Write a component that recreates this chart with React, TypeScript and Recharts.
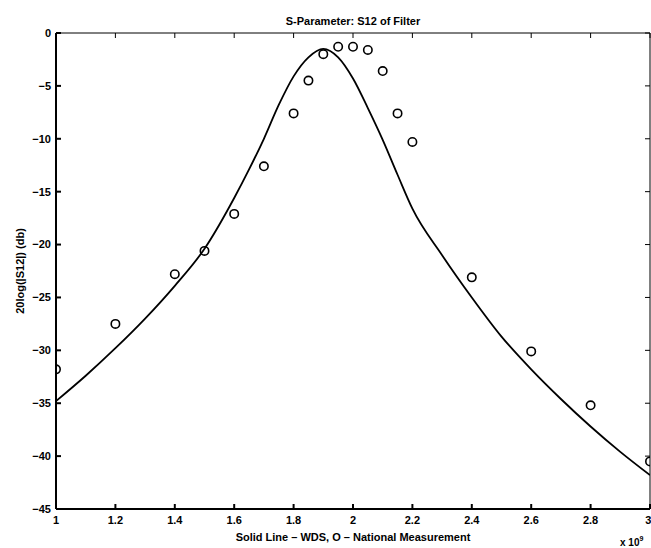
import { ComposedChart, Line, Scatter, XAxis, YAxis, Label } from "recharts";

// WDS simulation (solid line), frequency in units of 1e9
const wdsFreq = [1.0, 1.1, 1.2, 1.3, 1.4, 1.5, 1.6, 1.65, 1.7, 1.75, 1.8, 1.85, 1.9, 1.95, 2.0, 2.05, 2.1, 2.15, 2.2, 2.3, 2.4, 2.5, 2.6, 2.7, 2.8, 2.9, 3.0];
const wdsS12 = [-34.8, -32.4, -29.8, -27.0, -23.9, -20.4, -15.6, -12.9, -10.0, -6.8, -4.1, -2.3, -1.5, -2.3, -4.3, -7.1, -10.1, -13.4, -16.6, -21.0, -25.0, -28.7, -31.8, -34.6, -37.2, -39.6, -41.8];

// National measurement (circles)
const measFreq = [1.0, 1.2, 1.4, 1.5, 1.6, 1.7, 1.8, 1.85, 1.9, 1.95, 2.0, 2.05, 2.1, 2.15, 2.2, 2.4, 2.6, 2.8, 3.0];
const measS12 = [-31.8, -27.5, -22.8, -20.6, -17.1, -12.6, -7.6, -4.5, -2.0, -1.3, -1.3, -1.6, -3.6, -7.6, -10.3, -23.1, -30.1, -35.2, -40.5];

const xTicks = [1, 1.2, 1.4, 1.6, 1.8, 2, 2.2, 2.4, 2.6, 2.8, 3];
const yTicks = [0, -5, -10, -15, -20, -25, -30, -35, -40, -45];

const wdsData = wdsFreq.map((f, i) => ({ f, s12: wdsS12[i] }));
const measData = measFreq.map((f, i) => ({ f, s12: measS12[i] }));

const font = { fontFamily: "'Liberation Sans', Arial, sans-serif", fontWeight: 700, fontSize: 11, fill: "#000" };

const fmtY = (v: number) => (v < 0 ? `\u2212${-v}` : `${v}`);

const OpenCircle = (props: any) => (
  <circle cx={props.cx} cy={props.cy} r={4.2} fill="none" stroke="#000" strokeWidth={1.6} />
);

const Hidden = () => <g />;

export default function App() {
  return (
    <div style={{ position: "absolute", left: 0, top: 0, background: "#fff" }}>
      <ComposedChart width={651} height={548} margin={{ top: 0, right: 0, bottom: 0, left: 0 }}>
        <XAxis
          xAxisId="top"
          orientation="top"
          type="number"
          dataKey="f"
          domain={[1, 3]}
          ticks={xTicks}
          allowDataOverflow
          height={33}
          tickSize={-5}
          tick={Hidden}
          stroke="#000"
          strokeWidth={1}
        >
          <Label
            content={({ viewBox }: any) => (
              <text x={viewBox.x + viewBox.width / 2} y={viewBox.y + 25} textAnchor="middle" style={font}>
                S-Parameter: S12 of Filter
              </text>
            )}
          />
        </XAxis>
        <XAxis
          xAxisId="b"
          type="number"
          dataKey="f"
          domain={[1, 3]}
          ticks={xTicks}
          allowDataOverflow
          height={39}
          tickSize={-5}
          tickMargin={12}
          tick={font}
          stroke="#000"
          strokeWidth={2}
        >
          <Label
            content={({ viewBox }: any) => (
              <g>
                <text x={viewBox.x + viewBox.width / 2} y={viewBox.y + 32} textAnchor="middle" style={font}>
                  Solid Line – WDS, O – National Measurement
                </text>
                <text x={620} y={viewBox.y + 37} style={{ ...font, fontSize: 10 }}>
                  x 10<tspan dy={-5} fontSize={7}>9</tspan>
                </text>
              </g>
            )}
          />
        </XAxis>
        <YAxis
          yAxisId="l"
          type="number"
          domain={[-45, 0]}
          ticks={yTicks}
          allowDataOverflow
          width={56}
          tickSize={-5}
          tickMargin={10}
          tick={font}
          tickFormatter={fmtY}
          stroke="#000"
          strokeWidth={2}
        >
          <Label
            content={() => (
              <text x={24} y={271} textAnchor="middle" transform="rotate(-90 24 271)" style={font}>
                20log(|S12|) (db)
              </text>
            )}
          />
        </YAxis>
        <YAxis
          yAxisId="r"
          orientation="right"
          type="number"
          domain={[-45, 0]}
          ticks={yTicks}
          allowDataOverflow
          width={1}
          tickSize={-5}
          tick={Hidden}
          stroke="#000"
          strokeWidth={1}
        />
        <Line
          xAxisId="b"
          yAxisId="l"
          data={wdsData}
          dataKey="s12"
          type="monotone"
          stroke="#000"
          strokeWidth={1.8}
          dot={false}
          activeDot={false}
          isAnimationActive={false}
        />
        <Scatter
          xAxisId="b"
          yAxisId="l"
          data={measData}
          dataKey="s12"
          shape={OpenCircle}
          isAnimationActive={false}
        />
      </ComposedChart>
    </div>
  );
}
